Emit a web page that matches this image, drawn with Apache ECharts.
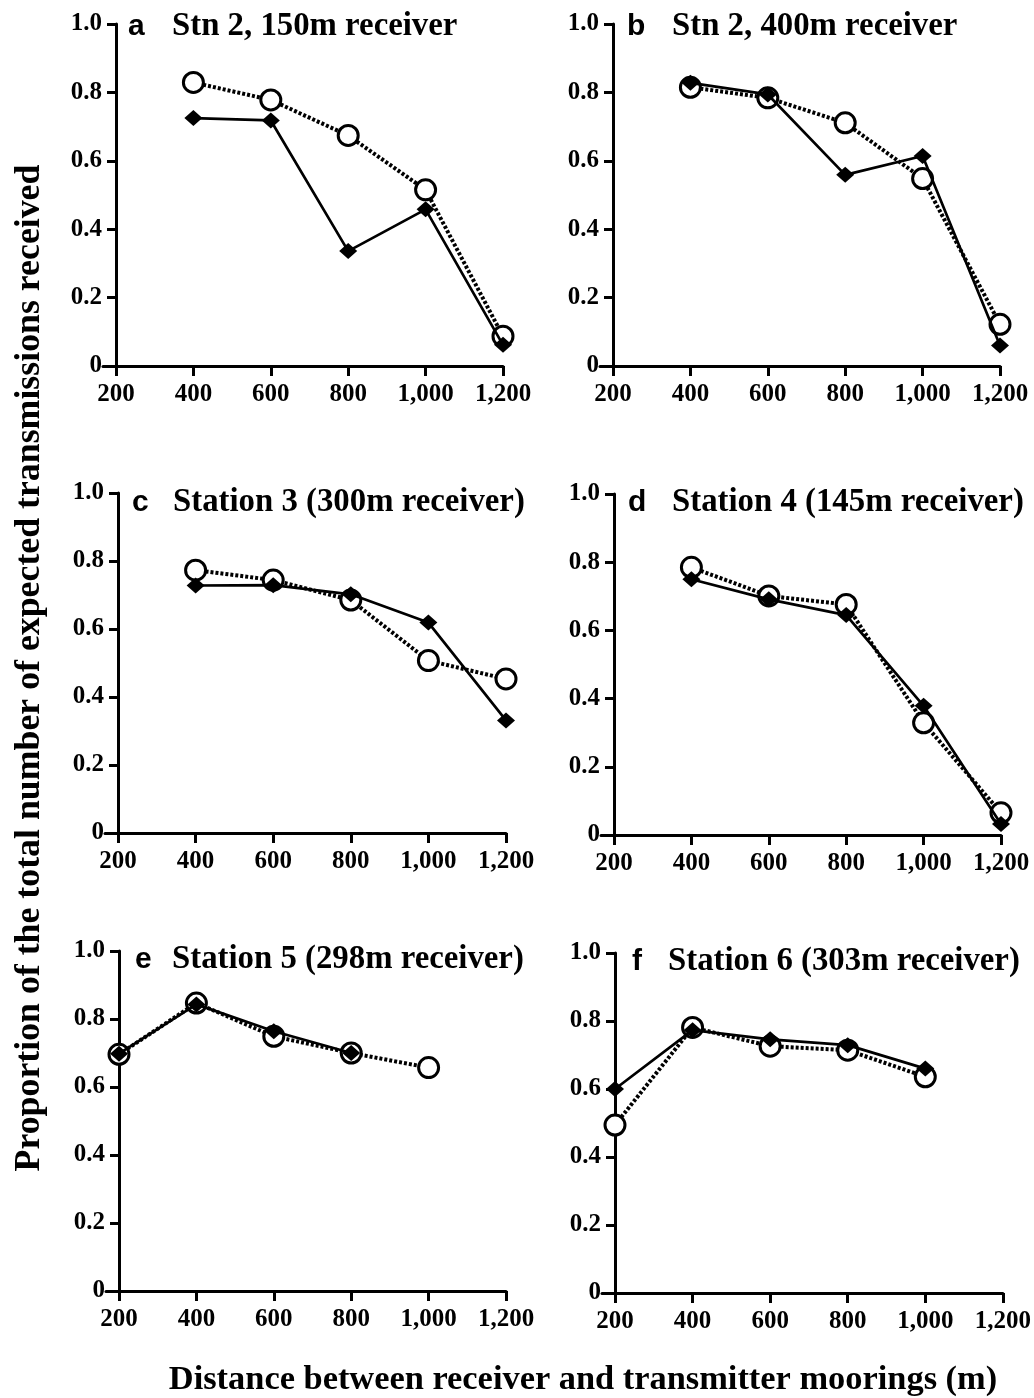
<!DOCTYPE html>
<html>
<head>
<meta charset="utf-8">
<script src="https://cdn.jsdelivr.net/npm/echarts@6/dist/echarts.min.js"></script>
<style>
html,body{margin:0;padding:0;background:#fff;}
#main{width:1034px;height:1398px;}
</style>
</head>
<body>
<div id="main"></div>
<script>
// ---- data ----
const xTicks = [200, 400, 600, 800, 1000, 1200];
const yTicks = [0, 0.2, 0.4, 0.6, 0.8, 1.0];
const panelLetters = ['a', 'b', 'c', 'd', 'e', 'f'];
const panelTitles = ['Stn 2, 150m receiver', 'Stn 2, 400m receiver', 'Station 3 (300m receiver)',
  'Station 4 (145m receiver)', 'Station 5 (298m receiver)', 'Station 6 (303m receiver)'];
const xA = [400, 600, 800, 1000, 1200];
const diamondA = [0.725, 0.718, 0.336, 0.458, 0.062];
const circleA = [0.829, 0.778, 0.674, 0.515, 0.087];
const xB = [400, 600, 800, 1000, 1200];
const diamondB = [0.828, 0.794, 0.559, 0.614, 0.060];
const circleB = [0.815, 0.784, 0.711, 0.548, 0.122];
const xC = [400, 600, 800, 1000, 1200];
const diamondC = [0.728, 0.729, 0.702, 0.619, 0.331];
const circleC = [0.773, 0.744, 0.685, 0.507, 0.453];
const xD = [400, 600, 800, 1000, 1200];
const diamondD = [0.750, 0.691, 0.645, 0.379, 0.032];
const circleD = [0.785, 0.701, 0.676, 0.329, 0.065];
const xE = [200, 400, 600, 800];
const diamondE = [0.698, 0.843, 0.764, 0.700];
const xE2 = [200, 400, 600, 800, 1000];
const circleE = [0.696, 0.847, 0.749, 0.700, 0.657];
const xF = [200, 400, 600, 800, 1000];
const diamondF = [0.600, 0.773, 0.746, 0.729, 0.660];
const circleF = [0.494, 0.781, 0.726, 0.714, 0.636];
const yTitle = 'Proportion of the total number of expected transmissions received';
const xTitle = 'Distance between receiver and transmitter moorings (m)';

const panels = [
  {xd: xA, d: diamondA, xc: xA, c: circleA},
  {xd: xB, d: diamondB, xc: xB, c: circleB},
  {xd: xC, d: diamondC, xc: xC, c: circleC},
  {xd: xD, d: diamondD, xc: xD, c: circleD},
  {xd: xE, d: diamondE, xc: xE2, c: circleE},
  {xd: xF, d: diamondF, xc: xF, c: circleF}
];

// ---- layout ----
const layout = [
  {yx: 116, top: 24, bottom: 366, right: 503},
  {yx: 613, top: 24, bottom: 366, right: 1000},
  {yx: 118, top: 493, bottom: 833, right: 506},
  {yx: 614, top: 494, bottom: 835, right: 1001},
  {yx: 119, top: 951, bottom: 1291, right: 506},
  {yx: 615, top: 953, bottom: 1293, right: 1003}
];
const ext = 13; // x-axis line extends left of the y-axis

const serif = '"Liberation Serif", "Times New Roman", serif';
const sans = '"Liberation Sans", Arial, sans-serif';

const grids = [], xAxes = [], yAxes = [], series = [], graphics = [];
layout.forEach((L, i) => {
  const gl = L.yx - ext;
  const w = L.right - gl;
  const pxPerUnit = (L.right - L.yx) / 1000;
  const xmin = 200 - ext / pxPerUnit;
  grids.push({left: gl, top: L.top, width: w, height: L.bottom - L.top, containLabel: false});
  xAxes.push({
    type: 'value', gridIndex: i, min: xmin, max: 1200,
    axisLine: {show: true, lineStyle: {color: '#000', width: 3}},
    axisTick: {show: true, length: 10, inside: false, lineStyle: {color: '#000', width: 3}, customValues: xTicks},
    axisLabel: {show: true, customValues: xTicks, margin: 16, color: '#000',
      fontFamily: serif, fontWeight: 'bold', fontSize: 25,
      formatter: v => v >= 1000 ? (Math.floor(v / 1000) + ',' + String(v % 1000).padStart(3, '0')) : String(v)},
    splitLine: {show: false}
  });
  yAxes.push({
    type: 'value', gridIndex: i, min: 0, max: 1, interval: 0.2, offset: -ext,
    axisLine: {show: true, lineStyle: {color: '#000', width: 3}},
    axisTick: {show: true, length: 9, lineStyle: {color: '#000', width: 3}},
    axisLabel: {show: true, margin: 14, color: '#000', fontFamily: serif, fontWeight: 'bold', fontSize: 25,
      formatter: v => v === 0 ? '0' : v.toFixed(1)},
    splitLine: {show: false}
  });
  const P = panels[i];
  series.push({
    type: 'line', xAxisIndex: i, yAxisIndex: i,
    data: P.xc.map((x, k) => [x, P.c[k]]),
    symbol: 'circle', symbolSize: 20,
    itemStyle: {color: '#fff', borderColor: '#000', borderWidth: 3},
    lineStyle: {color: '#000', width: 4, type: [3, 2], cap: 'butt'},
    z: 2, animation: false
  });
  series.push({
    type: 'line', xAxisIndex: i, yAxisIndex: i,
    data: P.xd.map((x, k) => [x, P.d[k]]),
    symbol: 'diamond', symbolSize: [18, 16],
    itemStyle: {color: '#000', borderColor: '#000', borderWidth: 0},
    lineStyle: {color: '#000', width: 2.7},
    z: 3, animation: false
  });
});

const letterPos = [[128, 27], [627, 27], [132, 503], [628, 503], [135, 960], [632, 962]];
const titlePos = [[172, 27], [672, 27], [173, 503], [672, 503], [172, 960], [668, 962]];
letterPos.forEach((p, i) => {
  graphics.push({type: 'text', x: p[0], y: p[1], style: {text: panelLetters[i], fill: '#000',
    font: 'bold 30px ' + sans, verticalAlign: 'middle'}});
  graphics.push({type: 'text', x: titlePos[i][0], y: titlePos[i][1], style: {text: panelTitles[i], fill: '#000',
    font: 'bold 32.8px ' + serif, verticalAlign: 'middle'}});
});
graphics.push({type: 'text', x: 30, y: 668, rotation: Math.PI / 2,
  style: {text: yTitle, fill: '#000', font: 'bold 35.8px ' + serif, align: 'center', verticalAlign: 'middle'}});
graphics.push({type: 'text', x: 583, y: 1380,
  style: {text: xTitle, fill: '#000', font: 'bold 34.4px ' + serif, align: 'center', verticalAlign: 'middle'}});

const chart = echarts.init(document.getElementById('main'), null, {renderer: 'canvas'});
chart.setOption({
  backgroundColor: '#fff',
  animation: false,
  grid: grids, xAxis: xAxes, yAxis: yAxes, series: series, graphic: graphics
});
</script>
</body>
</html>
